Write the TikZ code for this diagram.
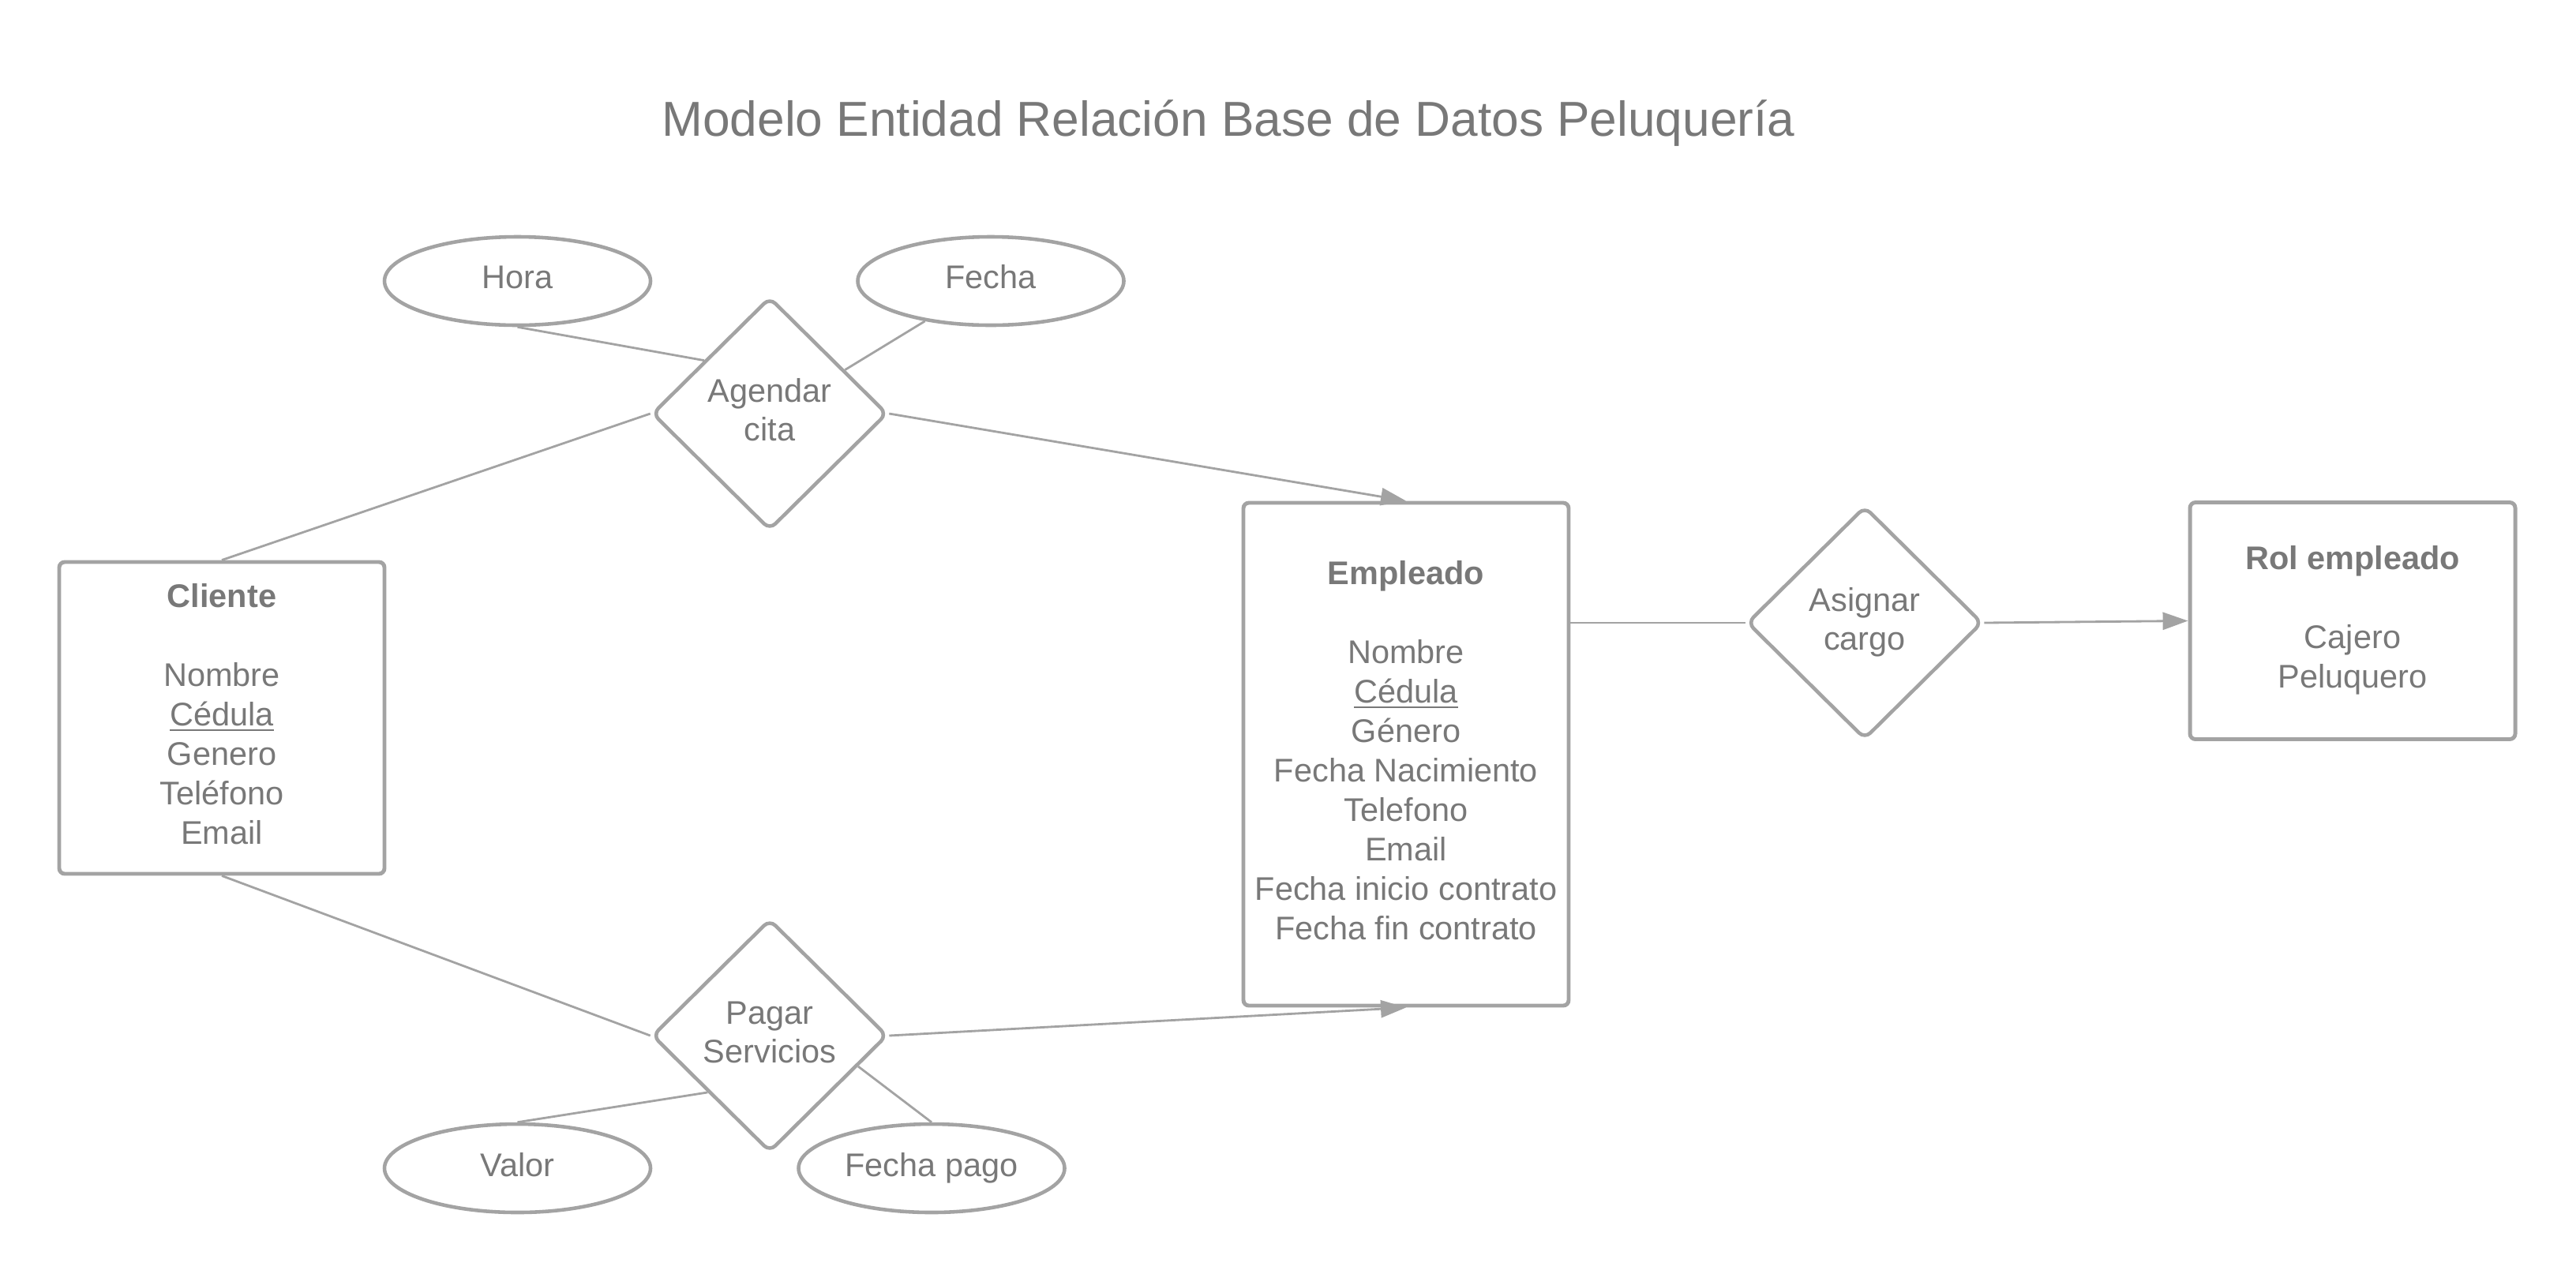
\documentclass[tikz,border=0pt]{standalone}
\usepackage{fontspec}
\setmainfont{Liberation Sans}
\usetikzlibrary{shapes.geometric,arrows.meta,calc}
\definecolor{linegray}{RGB}{163,163,163}
\definecolor{textgray}{RGB}{120,120,120}
\newcommand{\erlines}[1]{\begin{tabular}{@{}c@{}}#1\end{tabular}}

\begin{document}
\begin{tikzpicture}[font=\fontsize{11.8}{14.2}\selectfont, text=textgray,
	entity/.style={draw=linegray, line width=1.4pt, rounded corners=0.07cm, minimum width=4.12cm, inner sep=0pt},
	relation/.style={diamond, draw=linegray, line width=1.3pt, rounded corners=0.1cm, minimum width=2.98cm, minimum height=2.95cm, inner sep=0pt},
	attrib/.style={ellipse, draw=linegray, line width=1.3pt, minimum width=3.37cm, minimum height=1.12cm, inner sep=0pt},
	link/.style={draw=linegray, line width=0.8pt},
	tolink/.style={link, -{Triangle[length=0.32cm, width=0.22cm]}}]
	\useasboundingbox (0,0) rectangle (32.63,-16.13);
	%title
	\node (titulo) at (15.56,-1.56) {\fontsize{17.7}{21}\selectfont Modelo Entidad Relación Base de Datos Peluquería};

	%entities
	\node[entity, minimum height=3.95cm] (cliente) at (2.81,-9.095) {\erlines{\textbf{Cliente}\\[0.5cm]Nombre\\\underline{Cédula}\\Genero\\Teléfono\\Email}}; %Cliente
	\node[entity, minimum height=6.37cm] (empleado) at (17.81,-9.555) {\erlines{\textbf{Empleado}\\[0.5cm]Nombre\\\underline{Cédula}\\Género\\Fecha Nacimiento\\Telefono\\Email\\Fecha inicio contrato\\Fecha fin contrato}}; %Empleado
	\node[entity, minimum height=3.00cm] (rol) at (29.80,-7.865) {\erlines{\textbf{Rol empleado}\\[0.5cm]Cajero\\Peluquero}}; %Rol

	%relations
	\node[relation] (agendar) at (9.75,-5.24) {\erlines{Agendar\\cita}};
	\node[relation] (pagar) at (9.75,-13.12) {\erlines{Pagar\\Servicios}};
	\node[relation] (asignar) at (23.62,-7.89) {\erlines{Asignar\\cargo}};

	%attributes
	\node[attrib] (hora) at (6.555,-3.56) {\erlines{Hora}};
	\node[attrib] (fecha) at (12.55,-3.56) {\erlines{Fecha}};
	\node[attrib] (valor) at (6.555,-14.80) {\erlines{Valor}};
	\node[attrib] (fechapago) at (11.80,-14.80) {\erlines{Fecha pago}};

	%points on the diamonds
	\coordinate (hora-in) at ($(agendar.west)!0.45!(agendar.north)$);
	\coordinate (fecha-in) at ($(agendar.north)!0.63!(agendar.east)$);
	\coordinate (valor-in) at ($(pagar.west)!0.48!(pagar.south)$);
	\coordinate (fechapago-in) at ($(pagar.east)!0.26!(pagar.south)$);

	%connectors
	\draw[link] (hora.south) -- (hora-in); %Hora
	\draw[link] (fecha) -- (fecha-in); %Fecha
	\draw[link] (cliente.north) -- (agendar.west); %Cliente - Agendar
	\draw[tolink] (agendar.east) -- (empleado.north); %Agendar - Empleado
	\draw[link] (cliente.south) -- (pagar.west); %Cliente - Pagar
	\draw[tolink] (pagar.east) -- (empleado.south); %Pagar - Empleado
	\draw[link] (valor.north) -- (valor-in); %Valor
	\draw[link] (fechapago.north) -- (fechapago-in); %Fecha pago
	\draw[link] (asignar.west -| empleado.east) -- (asignar.west); %Empleado - Asignar
	\draw[tolink] (asignar.east) -- (rol.west); %Asignar - Rol
\end{tikzpicture}
\end{document}
